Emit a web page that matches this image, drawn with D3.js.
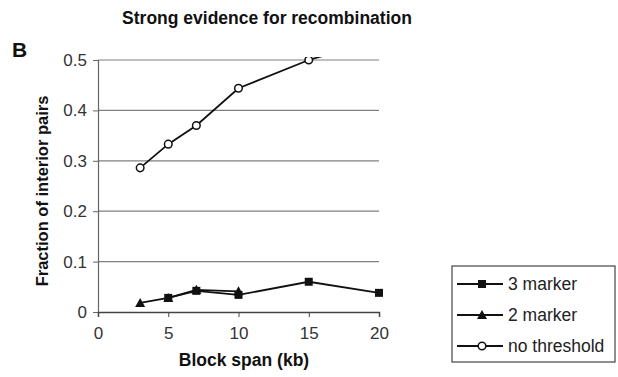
<!DOCTYPE html>
<html>
<head>
<meta charset="utf-8">
<script src="https://cdn.jsdelivr.net/npm/d3@7"></script>
<style>
  body { margin: 0; background: #fff; }
  svg { font-family: "Liberation Sans", Arial, sans-serif; }
</style>
</head>
<body>
<div id="chart"></div>
<script>
// data
const xTicks = [0, 5, 10, 15, 20];
const yTicks = [0, 0.1, 0.2, 0.3, 0.4, 0.5];

const spans3 = [5, 7, 10, 15, 20];
const marker3 = [0.028, 0.042, 0.034, 0.060, 0.038];

const spans2 = [3, 5, 7, 10];
const marker2 = [0.018, 0.028, 0.044, 0.041];

const spansNo = [3, 5, 7, 10, 15, 20];
const noThreshold = [0.286, 0.333, 0.370, 0.444, 0.500, 0.54];

const seriesNames = ["3 marker", "2 marker", "no threshold"];

const width = 618, height = 377;
const margin = ({top: 60, right: 239, bottom: 65, left: 98});
const w = width - margin.left - margin.right, h = height - margin.top - margin.bottom;

const svg = d3.select("#chart").append("svg")
  .attr("width", width).attr("height", height);

const g = svg.append("g").attr("transform", `translate(${margin.left},${margin.top})`);

const x = d3.scaleLinear().domain([0, 20]).range([0, w]);
const y = d3.scaleLinear().domain([0, 0.5]).range([h, 0]);

// gridlines
g.selectAll(".grid").data(yTicks.slice(1)).enter().append("line")
  .attr("x1", 0).attr("x2", w)
  .attr("y1", d => y(d)).attr("y2", d => y(d))
  .attr("stroke", "#808080").attr("stroke-width", 1.2);

// y axis
const yAxis = g.append("g")
  .call(d3.axisLeft(y).tickValues(yTicks).tickFormat(d => d === 0 ? "0" : d3.format(".1f")(d)).tickSize(5).tickPadding(6));
yAxis.select(".domain").attr("stroke", "#666").attr("stroke-width", 1.2);
yAxis.selectAll(".tick line").attr("stroke", "#666");
yAxis.selectAll("text").attr("font-size", 17).attr("fill", "#333");

// x axis
const xAxis = g.append("g").attr("transform", `translate(0,${h})`)
  .call(d3.axisBottom(x).tickValues(xTicks).tickSize(5).tickPadding(10));
xAxis.select(".domain").attr("stroke", "#444").attr("stroke-width", 1.5);
xAxis.selectAll(".tick line").attr("stroke", "#444");
xAxis.selectAll("text").attr("font-size", 17).attr("fill", "#333");

svg.append("defs").append("clipPath").attr("id", "clip")
  .append("rect").attr("x", -10).attr("y", y(0.506)).attr("width", w + 20).attr("height", h + 20);

const line = d3.line().x(d => x(d[0])).y(d => y(d[1]));
const plot = g.append("g").attr("clip-path", "url(#clip)");

function pairs(xs, ys) { return xs.map((v, i) => [v, ys[i]]); }

const dNo = pairs(spansNo, noThreshold);
const d3m = pairs(spans3, marker3);
const d2m = pairs(spans2, marker2);

plot.append("path").datum(d2m).attr("d", line).attr("fill", "none").attr("stroke", "#111").attr("stroke-width", 1.8);
plot.append("path").datum(d3m).attr("d", line).attr("fill", "none").attr("stroke", "#111").attr("stroke-width", 1.8);
plot.append("path").datum(dNo).attr("d", line).attr("fill", "none").attr("stroke", "#111").attr("stroke-width", 1.8);

function drawMarker(sel, type) {
  if (type === 0) sel.append("rect").attr("x", -4).attr("y", -4).attr("width", 8).attr("height", 8).attr("fill", "#111");
  else if (type === 1) sel.append("path").attr("d", "M0,-5L5,4L-5,4Z").attr("fill", "#111");
  else sel.append("circle").attr("r", 3.8).attr("fill", "#fff").attr("stroke", "#111").attr("stroke-width", 1.5);
}

[d3m, d2m, dNo].forEach((data, k) => {
  data.filter(d => d[1] <= 0.5).forEach(d => {
    drawMarker(plot.append("g").attr("transform", `translate(${x(d[0])},${y(d[1])})`), k);
  });
});

// titles
svg.append("text").attr("x", 267).attr("y", 24).attr("text-anchor", "middle")
  .attr("font-size", 17.5).attr("font-weight", "bold").attr("fill", "#111")
  .text("Strong evidence for recombination");
svg.append("text").attr("x", 12).attr("y", 57)
  .attr("font-size", 21).attr("font-weight", "bold").attr("fill", "#111").text("B");
svg.append("text").attr("transform", `translate(48,191) rotate(-90)`)
  .attr("text-anchor", "middle").attr("font-size", 16.5).attr("font-weight", "bold").attr("fill", "#111")
  .text("Fraction of interior pairs");
svg.append("text").attr("x", 244).attr("y", 366).attr("text-anchor", "middle")
  .attr("font-size", 17.5).attr("font-weight", "bold").attr("fill", "#111")
  .text("Block span (kb)");

// legend
const legend = svg.append("g").attr("transform", "translate(452,266)");
legend.append("rect").attr("width", 163).attr("height", 96)
  .attr("fill", "#fff").attr("stroke", "#444").attr("stroke-width", 1.2);
seriesNames.forEach((name, i) => {
  const row = legend.append("g").attr("transform", `translate(0,${18 + i * 31})`);
  row.append("line").attr("x1", 5).attr("x2", 51).attr("stroke", "#111").attr("stroke-width", 1.8);
  drawMarker(row.append("g").attr("transform", "translate(30,0)"), i);
  row.append("text").attr("x", 56).attr("y", 6).attr("font-size", 17.5).attr("fill", "#222").text(name);
});
</script>
</body>
</html>
